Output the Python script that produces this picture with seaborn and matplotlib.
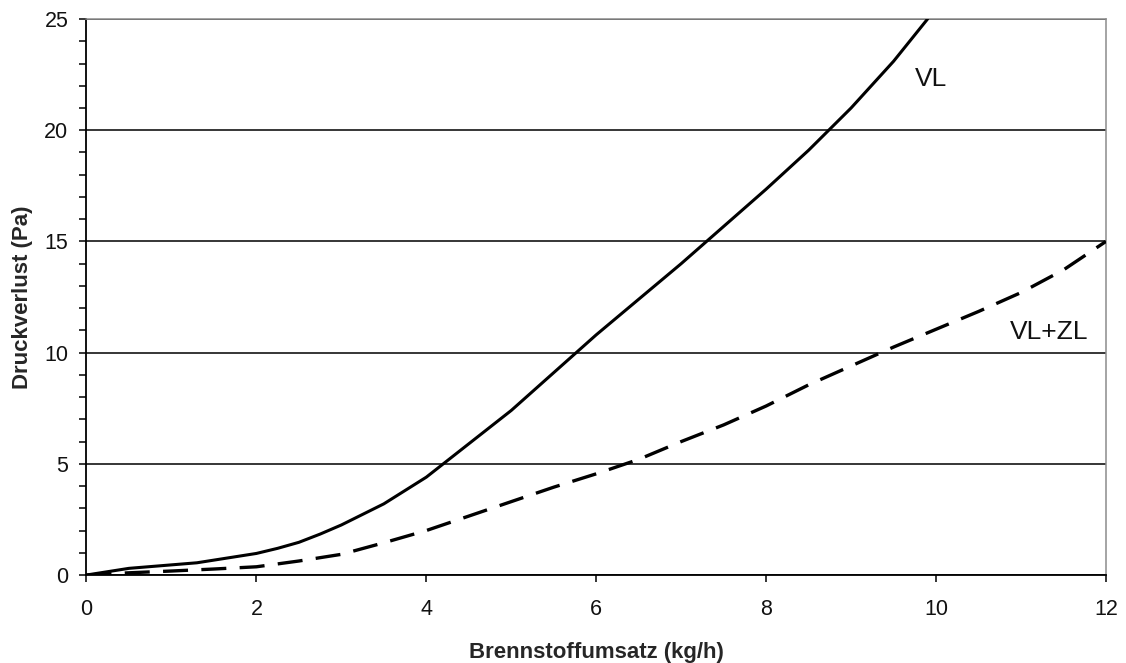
import matplotlib
matplotlib.use("Agg")
import matplotlib.pyplot as plt
import seaborn as sns
import pandas as pd
from matplotlib.ticker import MultipleLocator

# --- data ---
vl_x = [0, 0.5, 1.3, 2.0, 2.25, 2.5, 2.75, 3.0, 3.5, 4.0, 4.5, 5.0, 6.0, 7.0, 8.0, 8.5, 9.0, 9.25, 9.5, 9.7, 9.9]
vl_y = [0, 0.3, 0.55, 0.97, 1.2, 1.47, 1.84, 2.25, 3.2, 4.4, 5.9, 7.4, 10.8, 14.0, 17.35, 19.1, 21.0, 22.05, 23.1, 24.05, 25.0]

vlzl_x = [0, 0.5, 1.0, 1.5, 2.0, 2.5, 3.0, 3.5, 4.0, 4.5, 5.0, 5.5, 6.0, 6.5, 7.0, 7.5,
          8.0, 8.5, 9.0, 9.5, 10.0, 10.5, 11.0, 11.5, 12.0]
vlzl_y = [0, 0.1, 0.18, 0.27, 0.37, 0.63, 0.93, 1.45, 2.0, 2.65, 3.3, 3.95, 4.55, 5.2, 6.0, 6.75,
          7.6, 8.55, 9.4, 10.25, 11.05, 11.85, 12.7, 13.72, 15.0]

x_label = "Brennstoffumsatz (kg/h)"
y_label = "Druckverlust (Pa)"
series_labels = ["VL", "VL+ZL"]

sns.set_theme(style="white")
plt.rcParams["font.family"] = ["Liberation Sans", "DejaVu Sans"]

fig = plt.figure(figsize=(11.26, 6.63), dpi=100)
ax = fig.add_axes([0.0768, 0.1327, 0.9822 - 0.0768, 0.9713 - 0.1327])

df_vl = pd.DataFrame({"x": vl_x, "y": vl_y})
df_vlzl = pd.DataFrame({"x": vlzl_x, "y": vlzl_y})

sns.lineplot(data=df_vl, x="x", y="y", ax=ax, color="black", linewidth=2.2,
             sort=False, estimator=None, zorder=3)
sns.lineplot(data=df_vlzl, x="x", y="y", ax=ax, color="black", linewidth=2.4,
             sort=False, estimator=None, zorder=3)
ax.lines[-1].set_dashes([7.5, 4.0])

ax.set_xlim(0, 12)
ax.set_ylim(0, 25)
ax.xaxis.set_major_locator(MultipleLocator(2))
ax.yaxis.set_major_locator(MultipleLocator(5))
ax.yaxis.set_minor_locator(MultipleLocator(1))

ax.tick_params(axis="both", which="both", direction="out", color="black",
               width=1.1, length=5, labelsize=15.5, labelcolor="#111111")
ax.tick_params(axis="x", which="major", bottom=True, pad=12)
ax.tick_params(axis="y", which="both", left=True, pad=8)

ax.yaxis.grid(True, which="major", color="black", linewidth=1.1)
ax.xaxis.grid(False)
ax.set_axisbelow(True)
glines = ax.get_ygridlines()
glines[0].set_visible(False)
glines[-1].set_visible(False)

for s in ["left", "bottom"]:
    ax.spines[s].set_color("black")
    ax.spines[s].set_linewidth(1.3)
for s in ["top", "right"]:
    ax.spines[s].set_color("#8c8c8c")
    ax.spines[s].set_linewidth(1.1)

ax.set_xlabel(x_label, fontsize=16, fontweight="bold", labelpad=16)
ax.set_ylabel(y_label, fontsize=16, fontweight="bold", labelpad=8)

ax.text(9.75, 22.0, series_labels[0], fontsize=19, ha="left", va="baseline", color="#111111")
ax.text(10.87, 10.6, series_labels[1], fontsize=19, ha="left", va="baseline", color="#111111")

fig.savefig("out.png", dpi=100)
